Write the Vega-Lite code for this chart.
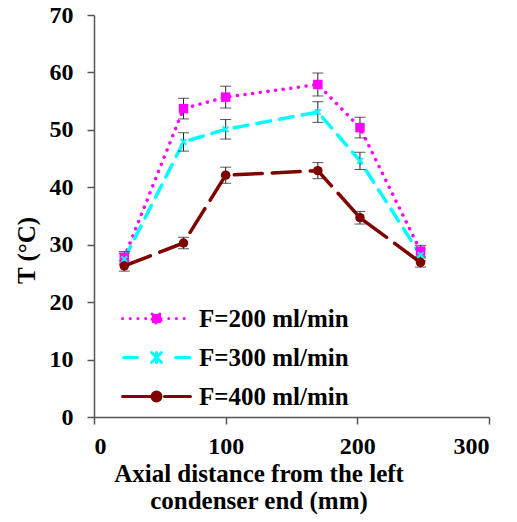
{
  "$schema": "https://vega.github.io/schema/vega-lite/v6.json",
  "autosize": "none",
  "width": 395,
  "height": 402,
  "padding": {"left": 94, "top": 15, "right": 28, "bottom": 105},
  "background": "white",
  "config": {
    "view": {"stroke": null},
    "font": "Liberation Serif",
    "axis": {
      "grid": false,
      "labelFont": "Liberation Serif",
      "labelFontSize": 24,
      "labelFontWeight": "bold",
      "labelColor": "black",
      "titleFont": "Liberation Serif",
      "titleFontSize": 25,
      "titleFontWeight": "bold",
      "titleColor": "black",
      "domainColor": "#555",
      "domainWidth": 1.5,
      "tickColor": "#555",
      "tickWidth": 1.5,
      "tickSize": 7
    }
  },
  "data": {
    "values": [
      {"series": "F=200 ml/min", "x": 23, "T": 27.8, "lo": 26.8, "hi": 28.8},
      {"series": "F=200 ml/min", "x": 68, "T": 53.7, "lo": 51.9, "hi": 55.5},
      {"series": "F=200 ml/min", "x": 100, "T": 55.7, "lo": 53.8, "hi": 57.6},
      {"series": "F=200 ml/min", "x": 170, "T": 57.9, "lo": 55.9, "hi": 59.9},
      {"series": "F=200 ml/min", "x": 202, "T": 50.4, "lo": 48.6, "hi": 52.2},
      {"series": "F=200 ml/min", "x": 248, "T": 28.9, "lo": 27.9, "hi": 29.9},
      {"series": "F=300 ml/min", "x": 23, "T": 27.5, "lo": 26.5, "hi": 28.5},
      {"series": "F=300 ml/min", "x": 68, "T": 47.9, "lo": 46.3, "hi": 49.5},
      {"series": "F=300 ml/min", "x": 100, "T": 50.1, "lo": 48.4, "hi": 51.8},
      {"series": "F=300 ml/min", "x": 170, "T": 53.1, "lo": 51.3, "hi": 54.9},
      {"series": "F=300 ml/min", "x": 202, "T": 44.6, "lo": 43.1, "hi": 46.1},
      {"series": "F=300 ml/min", "x": 248, "T": 28.2, "lo": 27.2, "hi": 29.2},
      {"series": "F=400 ml/min", "x": 23, "T": 26.3, "lo": 25.4, "hi": 27.2},
      {"series": "F=400 ml/min", "x": 68, "T": 30.3, "lo": 29.3, "hi": 31.3},
      {"series": "F=400 ml/min", "x": 100, "T": 42.1, "lo": 40.7, "hi": 43.5},
      {"series": "F=400 ml/min", "x": 170, "T": 42.9, "lo": 41.5, "hi": 44.3},
      {"series": "F=400 ml/min", "x": 202, "T": 34.7, "lo": 33.6, "hi": 35.8},
      {"series": "F=400 ml/min", "x": 248, "T": 26.9, "lo": 26.1, "hi": 27.7}
    ]
  },
  "encoding": {
    "x": {
      "field": "x",
      "type": "quantitative",
      "scale": {"domain": [0, 300], "nice": false},
      "axis": {
        "values": [0, 100, 200, 300],
        "labelPadding": 10,
        "title": ["Axial distance from the left", "condenser end (mm)"],
        "titleLineHeight": 27,
        "titlePadding": 3,
        "titleX": 164.5,
        "titleAlign": "center"
      }
    },
    "y": {
      "field": "T",
      "type": "quantitative",
      "scale": {"domain": [0, 70], "nice": false},
      "axis": {
        "values": [0, 10, 20, 30, 40, 50, 60, 70],
        "labelPadding": 14,
        "title": "T (°C)",
        "titleX": -68,
        "titleY": 235,
        "titleAlign": "center",
        "titleBaseline": "middle",
        "titleAngle": -90
      }
    }
  },
  "layer": [
    {
      "mark": {"type": "line", "strokeWidth": 3.5, "strokeCap": "round"},
      "encoding": {
        "color": {
          "field": "series",
          "type": "nominal",
          "scale": {
            "domain": ["F=200 ml/min", "F=300 ml/min", "F=400 ml/min"],
            "range": ["#FF00FF", "#00FFFF", "#800000"]
          },
          "legend": {
            "orient": "none",
            "legendX": 50,
            "legendY": 291,
            "title": null,
            "padding": 0,
            "symbolSize": 400,
            "symbolStrokeWidth": 3,
            "labelOffset": 30,
            "rowPadding": 13,
            "labelFont": "Liberation Serif",
            "labelFontSize": 25,
            "labelFontWeight": "bold",
            "labelColor": "black",
            "encode": {
              "symbols": {
                "update": {
                  "shape": {"signal": "datum.value === 'F=200 ml/min' ? 'M-3.4,0L3.4,0M-0.45,-0.45L0.45,-0.45L0.45,0.45L-0.45,0.45Z' : datum.value === 'F=300 ml/min' ? 'M-3.3,0L-1.9,0M1.9,0L3.4,0M-0.5,-0.5L0.5,0.5M-0.5,0.5L0.5,-0.5M0,-0.5L0,0.5' : 'M-3.4,0L-0.3,0M0.8,0L3.4,0M0.45,0A0.45,0.45,0,1,1,-0.45,0A0.45,0.45,0,1,1,0.45,0Z'"},
                  "strokeDash": {"signal": "datum.value === 'F=200 ml/min' ? [0.1, 7.6] : []"},
                  "fill": {"scale": "color", "field": "value"},
                  "stroke": {"scale": "color", "field": "value"},
                  "strokeCap": {"value": "round"},
                  "opacity": {"value": 1}
                }
              }
            }
          }
        },
        "strokeDash": {
          "field": "series",
          "type": "nominal",
          "scale": {
            "domain": ["F=200 ml/min", "F=300 ml/min", "F=400 ml/min"],
            "range": [[0.1, 7.6], [14, 9], [28, 10]]
          },
          "legend": null
        }
      }
    },
    {
      "mark": {"type": "errorbar", "color": "#222", "ticks": {"size": 11, "color": "#111"}},
      "encoding": {
        "y": {"field": "lo", "type": "quantitative"},
        "y2": {"field": "hi"},
        "detail": {"field": "series"}
      }
    },
    {
      "transform": [{"filter": "datum.series === 'F=200 ml/min'"}],
      "mark": {"type": "point", "shape": "square", "filled": true, "size": 90, "opacity": 1, "color": "#FF00FF"}
    },
    {
      "transform": [{"filter": "datum.series === 'F=300 ml/min'"}],
      "mark": {"type": "point", "shape": "M-0.6,-0.6L0.6,0.6M-0.6,0.6L0.6,-0.6", "filled": false, "size": 90, "opacity": 1, "strokeWidth": 2, "color": "#00FFFF"}
    },
    {
      "transform": [{"filter": "datum.series === 'F=400 ml/min'"}],
      "mark": {"type": "point", "shape": "circle", "filled": true, "size": 90, "opacity": 1, "color": "#800000"}
    }
  ]
}
